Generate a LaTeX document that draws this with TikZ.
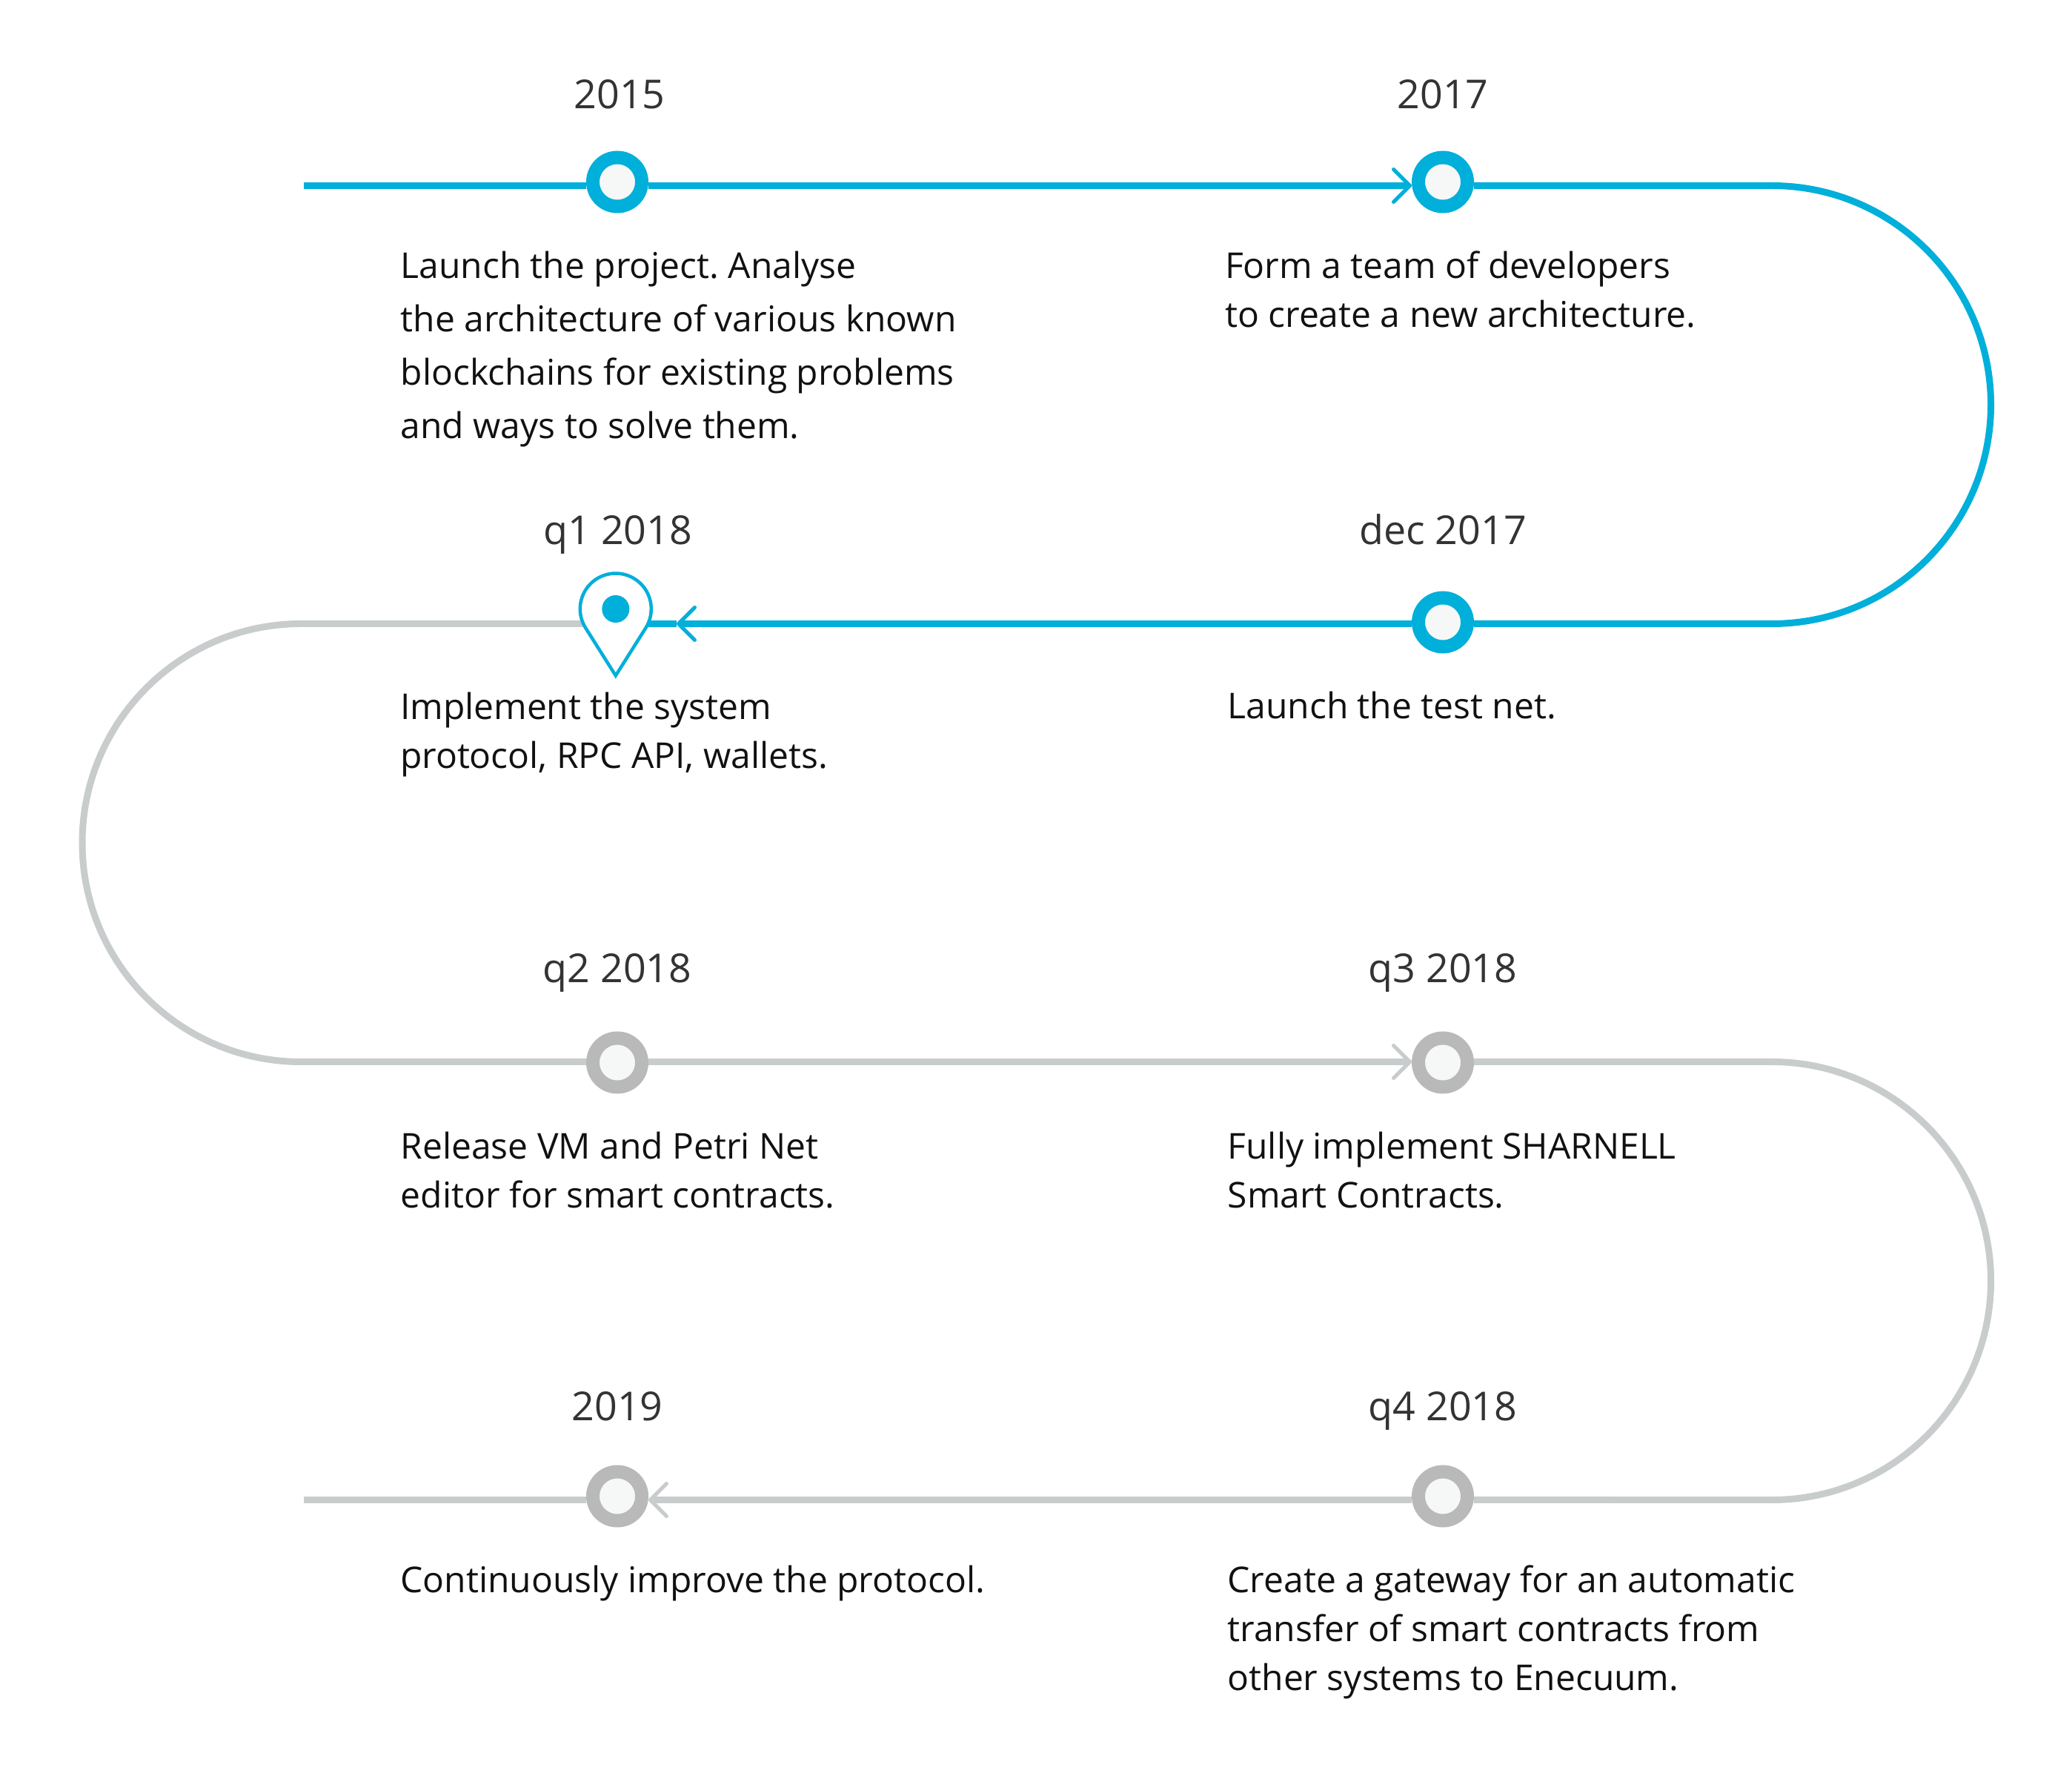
\documentclass[tikz,border=0pt]{standalone}
\usepackage{fontspec}
\setmainfont{Open Sans}
\usetikzlibrary{arrows.meta,positioning}
\frenchspacing
\definecolor{roadblue}{HTML}{00AFDA}
\definecolor{roadgrey}{HTML}{C8CCCC}
\definecolor{ringgrey}{HTML}{B9B9B9}
\definecolor{holewhite}{HTML}{F6F8F8}
\definecolor{yeartext}{HTML}{333333}
\definecolor{notetext}{HTML}{111111}
\tikzset{
  done/.style={
    circle,
    draw=roadblue,
    fill=holewhite,
    line width=.18cm,
    minimum size=.66cm,
    inner sep=0pt
  },
  todo/.style={
    done,
    draw=ringgrey
  },
  pindot/.style={
    circle,
    fill=roadblue,
    minimum size=.37cm,
    inner sep=0pt
  },
  year/.style={
    text=yeartext,
    font=\fontsize{15.3}{18}\selectfont,
    text height=.4cm,
    text depth=.12cm,
    inner sep=0pt
  },
  note/.style={
    text=notetext,
    align=left,
    inner sep=0pt,
    font=\fontsize{13.65}{18.8}\selectfont
  },
  notewide/.style={
    note,
    font=\fontsize{13.65}{20.5}\selectfont
  },
  doneline/.style={
    line width=.09cm,
    roadblue
  },
  todoline/.style={
    line width=.09cm,
    roadgrey
  },
  arrow/.style={
    -{Straight Barb[length=.22cm,width=.44cm,line width=.05cm,round]}
  }
}
\begin{document}
\begin{tikzpicture}[node distance=5.1cm and 10.3cm]
\useasboundingbox (0,0) rectangle (27.96,-24);
\node[done] (a) at (8.33,-2.455) {};
\node[done,right=of a] (b) {};
\node[done,below=of b] (c) {};
\node[pindot,left=10.55cm of c,yshift=.18cm] (d) {};
\node[todo,below=of c] (f) {};
\node[todo,left=of f] (e) {};
\node[todo,below=5.01cm of f] (g) {};
\node[todo,left=of g] (h) {};
% years
\node[year,above=.44cm of a,xshift=.03cm] (ya) {2015};
\node[year,above=.44cm of b] (yb) {2017};
\node[year,above=.50cm of c] (yc) {dec 2017};
\node[year,above=.555cm of d,xshift=.03cm] (yd) {q1 2018};
\node[year,above=.53cm of e] (ye) {q2 2018};
\node[year,above=.53cm of f] (yf) {q3 2018};
\node[year,above=.47cm of g] (yg) {q4 2018};
\node[year,above=.47cm of h] (yh) {2019};
% notes
\node[notewide,below right=.505cm and -2.93cm of a.south] (ta) {Launch the project. Analyse\\the architecture of various known\\blockchains for existing problems\\and ways to solve them.};
\node[note,below right=.505cm and -2.945cm of b.south] (tb) {Form a team of developers\\to create a new architecture.};
\node[note,below right=.505cm and -2.91cm of c.south] (tc) {Launch the test net.};
\node[note,below right=.925cm and -2.915cm of d.south] (td) {Implement the system\\protocol, RPC API, wallets.};
\node[note,below right=.505cm and -2.93cm of e.south] (te) {Release VM and Petri Net\\editor for smart contracts.};
\node[note,below right=.505cm and -2.91cm of f.south] (tf) {Fully implement SHARNELL\\Smart Contracts.};
\node[note,below right=.505cm and -2.91cm of g.south] (tg) {Create a gateway for an automatic\\transfer of smart contracts from\\other systems to Enecuum.};
\node[note,below right=.505cm and -2.93cm of h.south] (th) {Continuously improve the protocol.};
% road
\coordinate (begin) at (4.10,-2.505);
\coordinate (turna) at (23.91,-2.505);
\coordinate (tipd) at (9.13,-8.415);
\coordinate (pinr) at (8.31,-8.415);
\coordinate (turnb) at (4.065,-8.415);
\coordinate (turnc) at (23.91,-14.325);
\coordinate (finish) at (4.10,-20.235);
\draw[doneline] (begin) -- (a.west |- begin);
\draw[doneline,arrow] (a.east |- begin) -- (b.west |- begin);
\draw[doneline] (b.east |- begin) -- (turna) arc[start angle=90,end angle=-90,radius=2.955cm] -- (c.east |- tipd);
\draw[doneline,arrow] (c.west |- tipd) -- (tipd);
\draw[doneline] (tipd) -- (pinr);
\draw[todoline] (pinr) -- (turnb) arc[start angle=90,end angle=270,radius=2.955cm] -- (e.west |- turnc);
\draw[todoline,arrow] (e.east |- turnc) -- (f.west |- turnc);
\draw[todoline] (f.east |- turnc) -- (turnc) arc[start angle=90,end angle=-90,radius=2.955cm] -- (g.east |- finish);
\draw[todoline,arrow] (g.west |- finish) -- (h.east |- finish);
\draw[todoline] (h.west |- finish) -- (finish);
% pin
\draw[roadblue,fill=white,line width=.045cm,line join=miter] (d.center) ++(-32.2:.48) arc[start angle=-32.2,end angle=212.2,radius=.48cm] -- ([yshift=-.90cm]d.center) -- cycle;
\node[pindot] at (d) {};
\end{tikzpicture}
\end{document}
